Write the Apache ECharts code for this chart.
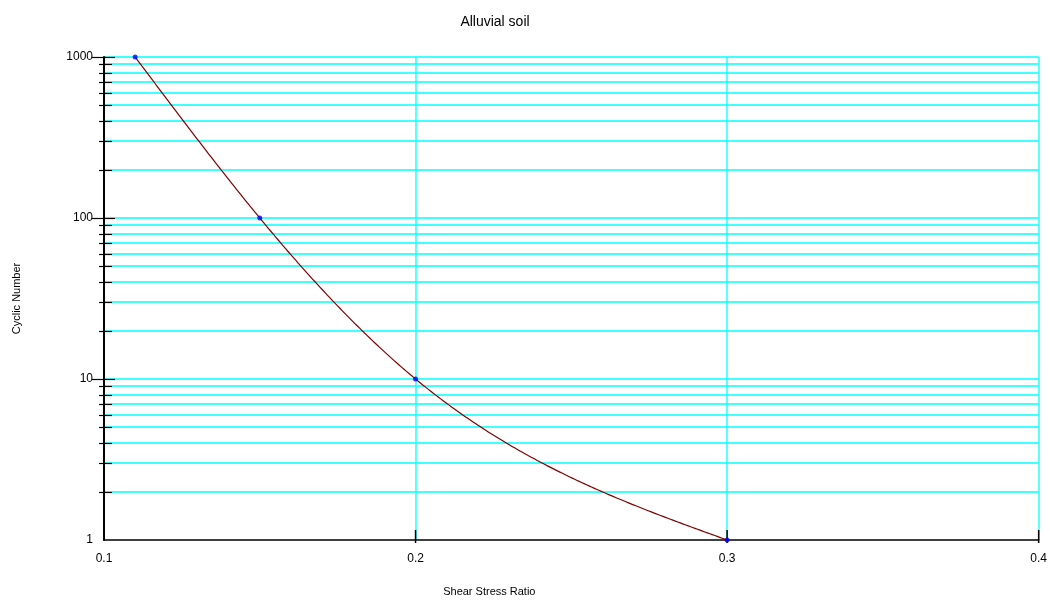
<!DOCTYPE html>
<html>
<head>
<meta charset="utf-8">
<title>Alluvial soil</title>
<script src="https://cdn.jsdelivr.net/npm/echarts@6/dist/echarts.min.js"></script>
<style>
  html, body { margin: 0; padding: 0; background: #fff; }
  #chart { width: 1050px; height: 602px; }
</style>
</head>
<body>
<div id="chart"></div>
<script>
// Cyclic strength curve of the alluvial soil
const shearStressRatio = [0.11, 0.15, 0.2, 0.3];
const cyclicNumber = [1000, 100, 10, 1];

// Axis ranges and tick positions
const xTickValues = [0.1, 0.2, 0.3, 0.4];
const yMajorValues = [1, 10, 100, 1000];
const yMinorValues = [2, 3, 4, 5, 6, 7, 8, 9,
                      20, 30, 40, 50, 60, 70, 80, 90,
                      200, 300, 400, 500, 600, 700, 800, 900];

const FONT = '"Liberation Sans", Arial, sans-serif';
const GRID_COLOR = '#00ffff';
const X_MIN = 0.1, X_MAX = 0.4, Y_MIN = 1, Y_MAX = 1000;

const chart = echarts.init(document.getElementById('chart'), null, { renderer: 'canvas' });

// horizontal grid lines on every decade step
function hGridItem(params, api) {
  const v = api.value(1);
  const a = api.coord([X_MIN, v]);
  const b = api.coord([X_MAX, v]);
  const y = Math.round(a[1]);
  return { type: 'line', shape: { x1: a[0], y1: y, x2: b[0], y2: y },
           style: { stroke: GRID_COLOR, lineWidth: 1.3 } };
}
// vertical grid lines at each x tick
function vGridItem(params, api) {
  const v = api.value(0);
  const a = api.coord([v, Y_MIN]);
  const b = api.coord([v, Y_MAX]);
  const x = Math.round(a[0]);
  return { type: 'line', shape: { x1: x, y1: a[1], x2: x, y2: b[1] },
           style: { stroke: GRID_COLOR, lineWidth: 1.3 } };
}
// y ticks crossing the axis (longer on decades)
function yTickItem(params, api) {
  const v = api.value(1);
  const major = api.value(2) === 1;
  const p = api.coord([X_MIN, v]);
  const y = Math.round(p[1]) + 0.5;
  const left = major ? 12 : 5, right = major ? 11 : 8;
  return { type: 'line', shape: { x1: p[0] - left, y1: y, x2: p[0] + right, y2: y },
           style: { stroke: '#000', lineWidth: 1.2 } };
}
// x ticks crossing the axis
function xTickItem(params, api) {
  const v = api.value(0);
  const p = api.coord([v, Y_MIN]);
  return { type: 'line', shape: { x1: p[0], y1: p[1] - 10, x2: p[0], y2: p[1] + 3 },
           style: { stroke: '#000', lineWidth: 1.5 } };
}

// natural cubic spline through the measured points, in (ratio, log10 N) space
function naturalSpline(xs, ys) {
  const n = xs.length;
  const h = [], M = new Array(n).fill(0);
  for (let i = 0; i < n - 1; i++) h.push(xs[i + 1] - xs[i]);
  // tridiagonal system for the inner second derivatives
  const a = [], b = [], c = [], r = [];
  for (let i = 1; i < n - 1; i++) {
    a.push(h[i - 1]);
    b.push(2 * (h[i - 1] + h[i]));
    c.push(h[i]);
    r.push(6 * ((ys[i + 1] - ys[i]) / h[i] - (ys[i] - ys[i - 1]) / h[i - 1]));
  }
  const m = r.length;
  for (let i = 1; i < m; i++) {
    const w = a[i] / b[i - 1];
    b[i] -= w * c[i - 1];
    r[i] -= w * r[i - 1];
  }
  for (let i = m - 1; i >= 0; i--) {
    M[i + 1] = (r[i] - (i < m - 1 ? c[i] * M[i + 2] : 0)) / b[i];
  }
  return function (x) {
    let i = 0;
    while (i < n - 2 && x > xs[i + 1]) i++;
    const hi = h[i], t = x - xs[i], s = xs[i + 1] - x;
    return M[i] * s * s * s / (6 * hi) + M[i + 1] * t * t * t / (6 * hi)
      + (ys[i] / hi - M[i] * hi / 6) * s + (ys[i + 1] / hi - M[i + 1] * hi / 6) * t;
  };
}

const logCycles = cyclicNumber.map(v => Math.log10(v));
const curveFn = naturalSpline(shearStressRatio, logCycles);

function curveItem(params, api) {
  if (params.dataIndex !== 0) return null;
  const pts = [];
  const x0 = shearStressRatio[0], x1 = shearStressRatio[shearStressRatio.length - 1];
  const steps = 240;
  for (let k = 0; k <= steps; k++) {
    const x = x0 + (x1 - x0) * k / steps;
    pts.push(api.coord([x, Math.pow(10, curveFn(x))]));
  }
  return { type: 'polyline', shape: { points: pts },
           style: { stroke: '#800000', lineWidth: 1.2, fill: null } };
}

const hGridData = yMinorValues.concat(yMajorValues.slice(1)).map(v => [X_MIN, v]);
const vGridData = xTickValues.map(v => [v, Y_MIN]);
const yTickData = yMinorValues.map(v => [X_MIN, v, 0])
  .concat(yMajorValues.slice(1).map(v => [X_MIN, v, 1]));
const xTickData = xTickValues.slice(1).map(v => [v, Y_MIN]);
const pointData = shearStressRatio.map((x, i) => [x, cyclicNumber[i]]);

chart.setOption({
  animation: false,
  backgroundColor: '#ffffff',
  textStyle: { fontFamily: FONT },
  title: {
    text: 'Alluvial soil',
    left: 490,
    top: 10,
    textAlign: 'center',
    textStyle: { fontFamily: FONT, fontSize: 14, fontWeight: 'normal', color: '#000' }
  },
  grid: { left: 104, right: 10, top: 57, bottom: 62, containLabel: false },
  xAxis: {
    type: 'value',
    min: X_MIN,
    max: X_MAX,
    interval: 0.1,
    name: 'Shear Stress Ratio',
    nameLocation: 'middle',
    nameGap: 46,
    nameTextStyle: { fontFamily: FONT, fontSize: 11, color: '#000', padding: [0, 0, 0, -164] },
    z: 5,
    axisLine: { show: true, onZero: false, lineStyle: { color: '#000', width: 1.5 } },
    axisTick: { show: false },
    splitLine: { show: false },
    axisLabel: {
      fontFamily: FONT, fontSize: 12, color: '#000', margin: 13,
      formatter: v => v.toFixed(1)
    }
  },
  yAxis: {
    type: 'log',
    logBase: 10,
    min: Y_MIN,
    max: Y_MAX,
    name: 'Cyclic Number',
    nameLocation: 'middle',
    nameGap: 82,
    nameRotate: 90,
    nameTextStyle: { fontFamily: FONT, fontSize: 11, color: '#000' },
    z: 5,
    axisLine: { show: true, onZero: false, lineStyle: { color: '#000', width: 2 } },
    axisTick: { show: false },
    splitLine: { show: false },
    minorTick: { show: false },
    axisLabel: { fontFamily: FONT, fontSize: 12, color: '#000', margin: 11,
                 formatter: v => String(Math.round(v)) }
  },
  series: [
    { type: 'custom', name: 'hGrid', renderItem: hGridItem, data: hGridData, z: 1, silent: true,
      encode: { x: 0, y: 1 } },
    { type: 'custom', name: 'vGrid', renderItem: vGridItem, data: vGridData, z: 1, silent: true,
      encode: { x: 0, y: 1 } },
    { type: 'custom', name: 'yTicks', renderItem: yTickItem, data: yTickData, z: 6, silent: true,
      clip: false, encode: { x: 0, y: 1 } },
    { type: 'custom', name: 'xTicks', renderItem: xTickItem, data: xTickData, z: 6, silent: true,
      clip: false, encode: { x: 0, y: 1 } },
    { type: 'custom', name: 'curve', renderItem: curveItem, data: pointData, z: 9, silent: true,
      clip: false, encode: { x: 0, y: 1 } },
    {
      type: 'scatter',
      name: 'Cyclic Number',
      data: pointData,
      z: 10,
      clip: false,
      symbol: 'circle',
      symbolSize: 5,
      itemStyle: { color: '#0000ff' }
    }
  ]
});
</script>
</body>
</html>
